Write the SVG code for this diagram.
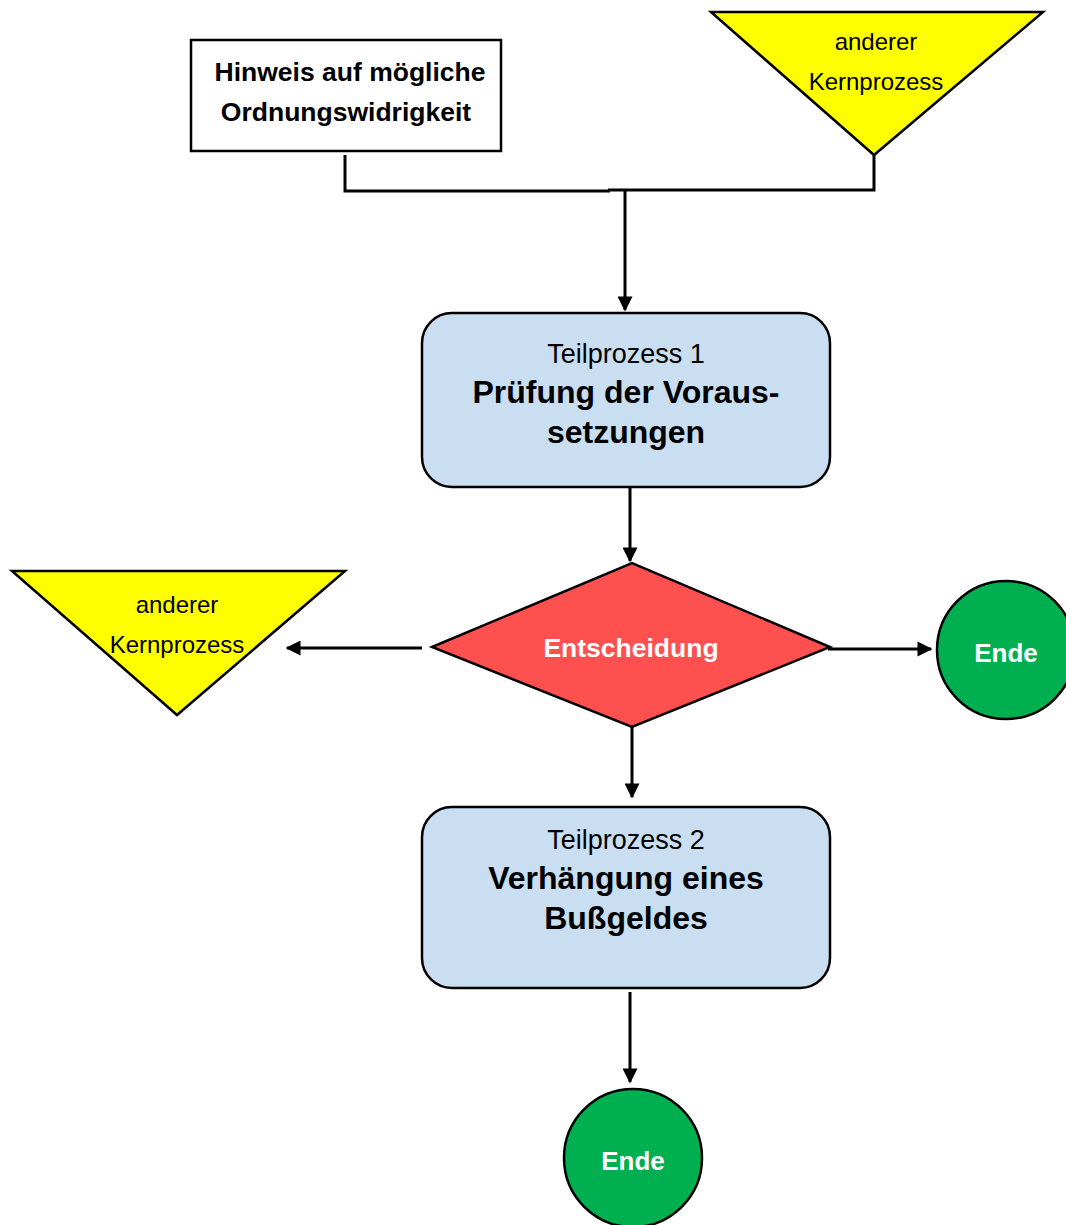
<svg xmlns="http://www.w3.org/2000/svg" width="1066" height="1225" viewBox="0 0 1066 1225">
<style>
text{font-family:"Liberation Sans",Arial,sans-serif;text-anchor:middle}
.b{font-weight:bold}
.proc{fill:#C9DEF1;stroke:#000;stroke-width:2.5}
.tri{fill:#FFFF00;stroke:#000;stroke-width:2.5}
.end{fill:#00B050;stroke:#000;stroke-width:2.5}
.w{fill:#fff;font-weight:bold}
.con{fill:none;stroke:#000;stroke-width:3}
</style>
<defs>
<marker id="ah" viewBox="0 0 10 10" refX="9" refY="5" markerWidth="5.5" markerHeight="5" orient="auto" markerUnits="strokeWidth">
<path d="M0,0 L10,5 L0,10 Z" fill="#000"/>
</marker>
</defs>
<rect width="1066" height="1225" fill="#fff"/>
<g id="hinweis">
<rect x="191" y="40" width="310" height="111" fill="#fff" stroke="#000" stroke-width="2.5"/>
<text x="350" y="81" class="b" font-size="26.5">Hinweis auf mögliche</text>
<text x="346" y="121" class="b" font-size="26.5">Ordnungswidrigkeit</text>
</g>
<g id="kern1">
<polygon class="tri" points="711,12 1043,12 874,155"/>
<text x="876" y="50" font-size="24">anderer</text>
<text x="876" y="90" font-size="24">Kernprozess</text>
</g>
<g id="teil1">
<rect class="proc" x="422" y="313" width="408" height="174" rx="30"/>
<text x="626" y="363" font-size="27">Teilprozess 1</text>
<text x="626" y="403" class="b" font-size="32">Prüfung der Voraus-</text>
<text x="626" y="443" class="b" font-size="32">setzungen</text>
</g>
<g id="entscheidung">
<polygon points="432,647 632,563 830,647 632,727" fill="#FF5050" stroke="#000" stroke-width="2.5"/>
<text x="631" y="657" class="w" font-size="26.5">Entscheidung</text>
</g>
<g id="kern2">
<polygon class="tri" points="12,571 345,571 177,715"/>
<text x="177" y="613" font-size="24">anderer</text>
<text x="177" y="653" font-size="24">Kernprozess</text>
</g>
<g id="ende1">
<circle class="end" cx="1006" cy="650" r="69"/>
<text x="1006" y="662" class="w" font-size="26">Ende</text>
</g>
<g id="teil2">
<rect class="proc" x="422" y="807" width="408" height="181" rx="30"/>
<text x="626" y="849" font-size="27">Teilprozess 2</text>
<text x="626" y="889" class="b" font-size="32">Verhängung eines</text>
<text x="626" y="929" class="b" font-size="32">Bußgeldes</text>
</g>
<g id="ende2">
<circle class="end" cx="633" cy="1158" r="69"/>
<text x="633" y="1170" class="w" font-size="26">Ende</text>
</g>
<g id="connectors">
<polyline class="con" points="345,155 345,191 610,191"/>
<polyline class="con" points="874,155 874,190 608,190"/>
<line class="con" x1="625" y1="190" x2="625" y2="310" marker-end="url(#ah)"/>
<line class="con" x1="630" y1="488" x2="630" y2="561" marker-end="url(#ah)"/>
<line class="con" x1="422" y1="648" x2="287" y2="648" marker-end="url(#ah)"/>
<line class="con" x1="828" y1="649" x2="931" y2="649" marker-end="url(#ah)"/>
<line class="con" x1="632" y1="727" x2="632" y2="797" marker-end="url(#ah)"/>
<line class="con" x1="630" y1="992" x2="630" y2="1082" marker-end="url(#ah)"/>
</g>
</svg>
